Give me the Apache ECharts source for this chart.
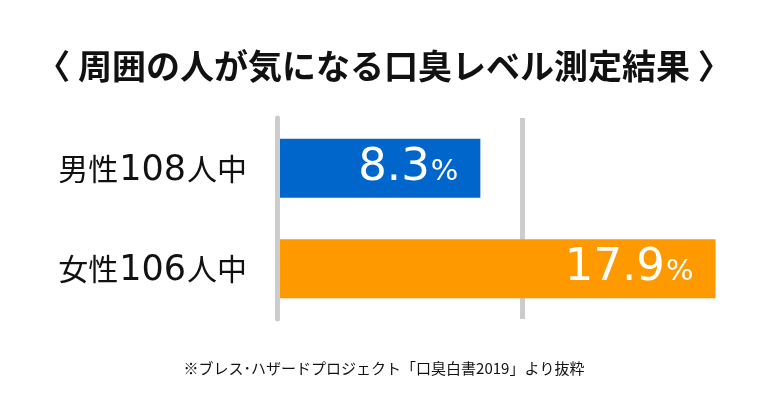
<!DOCTYPE html>
<html>
<head>
<meta charset="utf-8">
<script src="https://cdn.jsdelivr.net/npm/echarts@6/dist/echarts.min.js"></script>
<style>html,body{margin:0;padding:0;background:#fff}#c{width:768px;height:416px}</style>
</head>
<body>
<div id="c"></div>
<script>
var categories = ['男性108人中', '女性106人中'];
var values = [8.3, 17.9];
var barColors = ['#0066cc', '#ff9900'];
var titleText = '〈 周囲の人が気になる口臭レベル測定結果 〉';
var noteText = '※ブレス･ハザードプロジェクト「口臭白書2019」より抜粋';

function splitLabel(s) {
  return s.replace(/(\D+)|(\d+)/g, function (m, t, d) {
    return t ? '{t|' + t + '}' : '{d|' + d + '}';
  });
}

var chart = echarts.init(document.getElementById('c'));
chart.setOption({
  animation: false,
  backgroundColor: '#fff',
  title: [{
    text: titleText,
    left: 'center',
    top: 44,
    textStyle: {fontFamily: 'Noto Sans CJK JP', fontWeight: 'bold', fontSize: 34, color: '#111'}
  }, {
    text: noteText,
    left: 'center',
    top: 356,
    textStyle: {fontFamily: 'Noto Sans CJK JP', fontWeight: 'normal', fontSize: 15, color: '#111'}
  }],
  grid: {left: 277, width: 490, top: 118, bottom: 97},
  xAxis: {
    type: 'value', min: 0, max: 20, interval: 10,
    axisLabel: {show: false}, axisTick: {show: false}, axisLine: {show: false},
    splitLine: {show: true, lineStyle: {color: ['rgba(0,0,0,0)', '#cccccc', 'rgba(0,0,0,0)'], width: 5}}
  },
  yAxis: {
    type: 'category', data: categories, inverse: true, z: 5,
    axisTick: {show: false},
    axisLine: {show: true, lineStyle: {color: '#cccccc', width: 5}},
    axisLabel: {
      margin: 30, color: '#111',
      formatter: function (v) { return splitLabel(v); },
      rich: {
        t: {fontFamily: 'Noto Sans CJK JP', fontSize: 30, color: '#111'},
        d: {fontFamily: 'DejaVu Sans', fontSize: 35, color: '#111', padding: [5, 1, 0, 1]}
      }
    }
  },
  series: [{
    type: 'bar',
    barWidth: 59,
    data: values.map(function (v, i) { return {value: v, itemStyle: {color: barColors[i]}}; }),
    label: {
      show: true,
      position: 'insideRight',
      distance: 22,
      formatter: function (p) { return '{a|' + p.value + '}{b|%}'; },
      rich: {
        a: {fontFamily: 'DejaVu Sans', fontSize: 45, color: '#fff', fontWeight: 500},
        b: {fontFamily: 'DejaVu Sans', fontSize: 29, color: '#fff', fontWeight: 500, padding: [8, 0, 0, 1]}
      }
    }
  }]
});
</script>
</body>
</html>
